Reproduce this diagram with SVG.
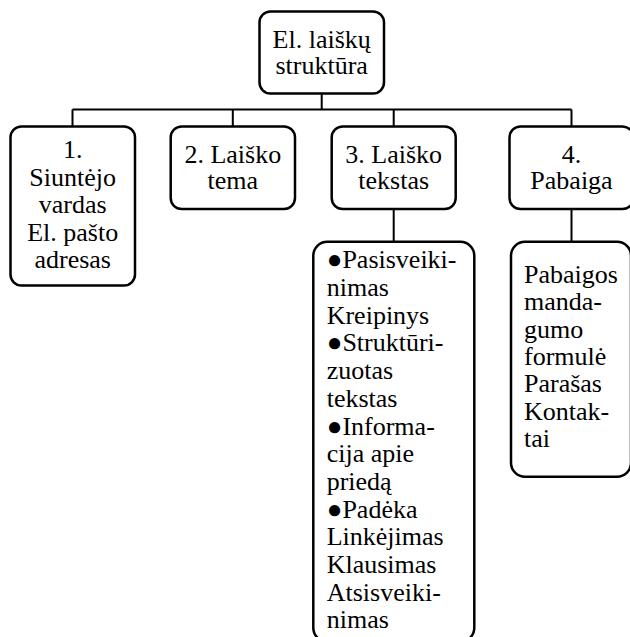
<svg xmlns="http://www.w3.org/2000/svg" width="630" height="637" viewBox="0 0 630 637">
<style>
  .box { fill: #ffffff; stroke: #000000; stroke-width: 2.5; }
  .conn { fill: none; stroke: #000000; stroke-width: 2; }
  .c { text-anchor: middle; }
</style>
<rect width="630" height="637" fill="#ffffff"/>
<g id="connectors">
  <path class="conn" d="M321.7,93 V109.5 M72.5,109.5 H571.5 M72.5,109.5 V126 M232.8,109.5 V126 M393.7,109.5 V126 M571.5,109.5 V126"/>
  <path class="conn" d="M393.7,209 V241.7"/>
  <path class="conn" d="M571.5,209 V241.7"/>
</g>
<g font-family="Liberation Serif, Times New Roman, DejaVu Serif, serif" font-size="26" fill="#000000">
<g id="root">
  <rect class="box" x="259.5" y="11.5" width="124.5" height="82" rx="11"/>
  <text class="c" x="321.7" y="47.7">El. laiškų</text>
  <text class="c" x="321.7" y="73.5">struktūra</text>
</g>
<g id="n1">
  <rect class="box" x="10.5" y="126.5" width="124.5" height="159" rx="11"/>
  <text class="c" x="72.7" y="158.3">1.</text>
  <text class="c" x="72.7" y="185.8">Siuntėjo</text>
  <text class="c" x="72.7" y="213.3">vardas</text>
  <text class="c" x="72.7" y="240.8">El. pašto</text>
  <text class="c" x="72.7" y="268.3">adresas</text>
</g>
<g id="n2">
  <rect class="box" x="170.7" y="126.5" width="124.3" height="82.5" rx="11"/>
  <text class="c" x="232.8" y="162.5">2. Laiško</text>
  <text class="c" x="232.8" y="189.3">tema</text>
</g>
<g id="n3">
  <rect class="box" x="331.7" y="126.5" width="124" height="82.5" rx="11"/>
  <text class="c" x="393.7" y="162.5">3. Laiško</text>
  <text class="c" x="393.7" y="189.3">tekstas</text>
</g>
<g id="n4">
  <rect class="box" x="509.5" y="126.5" width="124" height="82.5" rx="11"/>
  <text class="c" x="571.5" y="162.5">4.</text>
  <text class="c" x="571.5" y="189.3">Pabaiga</text>
</g>
<g id="n3a">
  <rect class="box" x="313.3" y="241.7" width="161" height="400" rx="14"/>
  <text x="326.7" y="268.3">●Pasisveiki-</text>
  <text x="326.7" y="296">nimas</text>
  <text x="326.7" y="323.7">Kreipinys</text>
  <text x="326.7" y="351.4">●Struktūri-</text>
  <text x="326.7" y="379.1">zuotas</text>
  <text x="326.7" y="406.8">tekstas</text>
  <text x="326.7" y="434.5">●Informa-</text>
  <text x="326.7" y="462.2">cija apie</text>
  <text x="326.7" y="489.9">priedą</text>
  <text x="326.7" y="517.6">●Padėka</text>
  <text x="326.7" y="545.3">Linkėjimas</text>
  <text x="326.7" y="573">Klausimas</text>
  <text x="326.7" y="600.7">Atsisveiki-</text>
  <text x="326.7" y="628.4">nimas</text>
</g>
<g id="n4a">
  <rect class="box" x="511" y="241.7" width="120" height="235" rx="14"/>
  <text x="524" y="283">Pabaigos</text>
  <text x="524" y="310.3">manda-</text>
  <text x="524" y="337.6">gumo</text>
  <text x="524" y="364.9">formulė</text>
  <text x="524" y="392.2">Parašas</text>
  <text x="524" y="419.5">Kontak-</text>
  <text x="524" y="446.8">tai</text>
</g>
</g>
</svg>
